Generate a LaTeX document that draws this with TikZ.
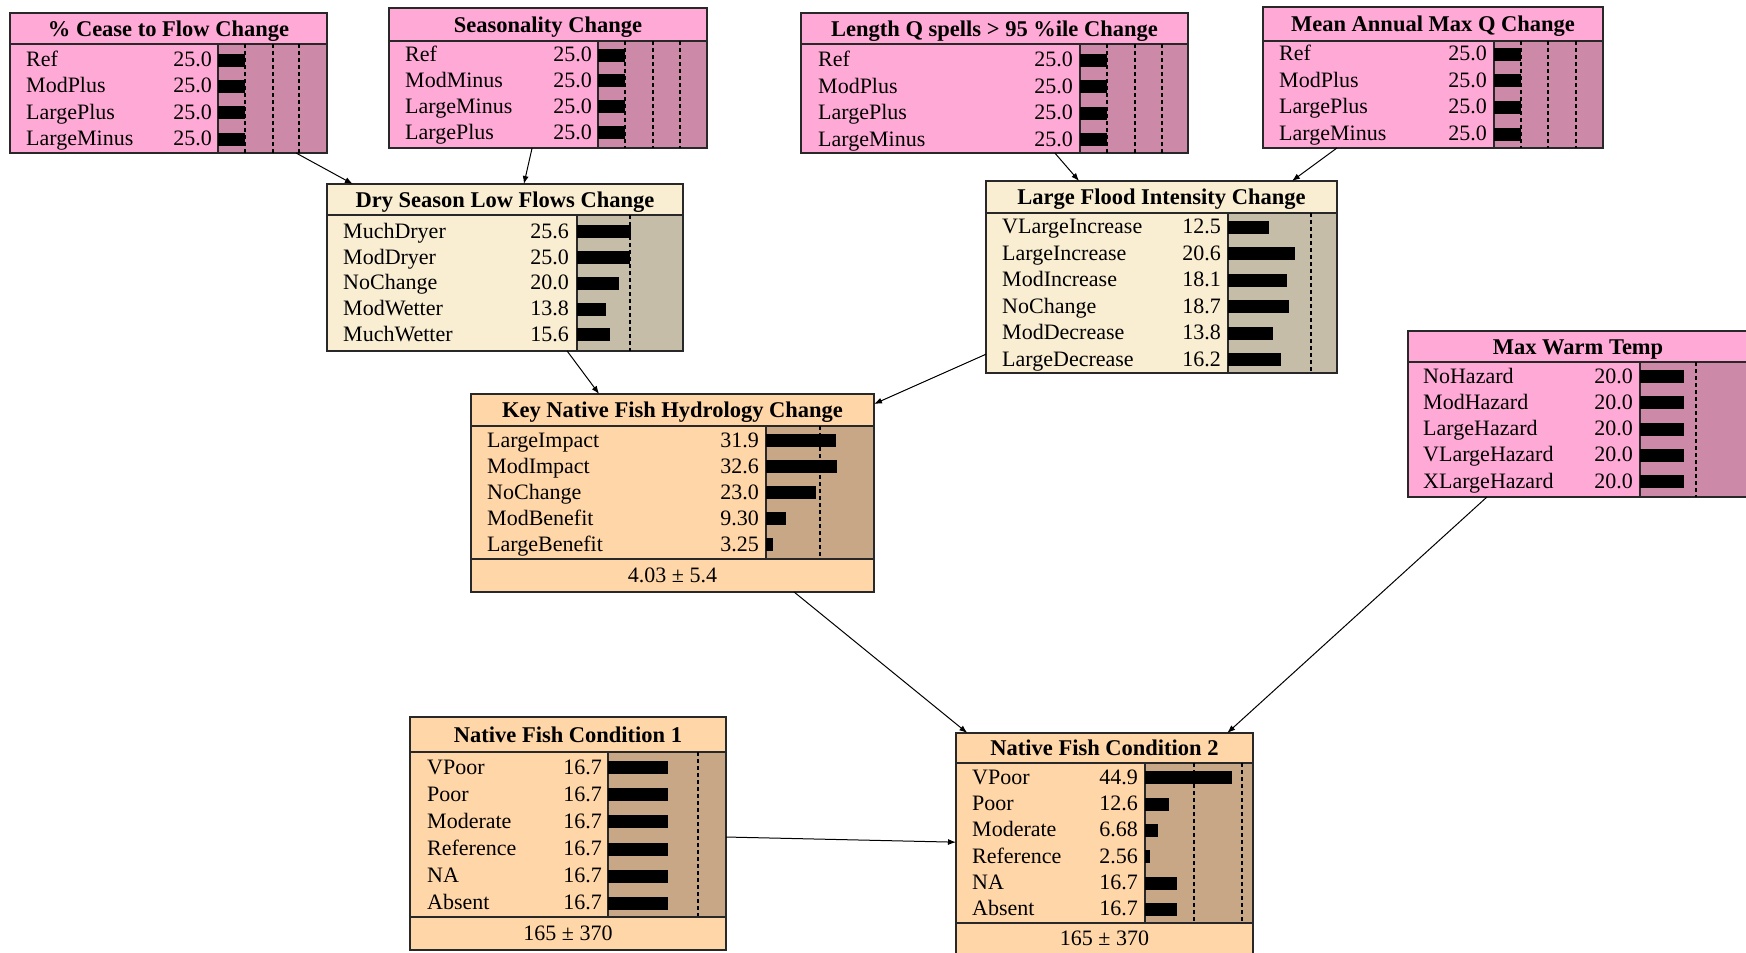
\documentclass[tikz,border=0pt]{standalone}
\usepackage{fontspec}
\setmainfont{Liberation Serif}
\usetikzlibrary{arrows.meta,fit}
\definecolor{pkfill}{RGB}{255,170,214}
\definecolor{pkbar}{RGB}{204,137,168}
\definecolor{bgfill}{RGB}{249,237,210}
\definecolor{bgbar}{RGB}{198,189,168}
\definecolor{pcfill}{RGB}{255,214,168}
\definecolor{pcbar}{RGB}{200,167,134}
\definecolor{framecol}{RGB}{40,40,40}
\tikzset{
  rowtext/.style={inner sep=0pt, font=\fontsize{22}{26}\selectfont},
  titletext/.style={inner sep=0pt, font=\fontsize{22.5}{26}\selectfont\bfseries},
  boxframe/.style={draw=framecol, line width=1.4pt, inner sep=0pt, outer sep=0pt},
  divline/.style={draw=framecol, line width=1.4pt},
  dashline/.style={draw=black, line width=1.1pt, dash pattern=on 4pt off 3pt},
  barfill/.style={fill=black},
  link/.style={draw=black, line width=1pt, -{Latex[length=8pt,width=6pt]}},
}
% #1 name, #2 x0, #3 y0, #4 x1, #5 y1, #6 title divider, #7 bar left, #8 bar bottom, #9 colour prefix
\newcommand\netbox[9]{%
  \fill[#9fill] (#2,#3) rectangle (#4,#5);
  \fill[#9bar] (#7,#6) rectangle (#4,#8);
  \draw[divline] (#2,#6) -- (#4,#6);
  \draw[divline] (#7,#6) -- (#7,#8);
  \node[boxframe, fit={(#2,#3) (#4,#5)}] (#1) {};
}
% #1 name, #2 label x, #3 number right x, #4 bar left, #5 first row centre, #6 row step, #7 list
\newcommand\netrows[7]{%
  \foreach \lab/\val/\bw [count=\i] in {#7}{%
    \pgfmathsetmacro\yy{#5+(\i-1)*#6}%
    \node[rowtext, anchor=base west] (#1-l\i) at (#2,\yy+6.5) {\lab};
    \node[rowtext, anchor=base east] (#1-v\i) at (#3,\yy+6.5) {\val};
    \fill[barfill] (#4,\yy-6.5) rectangle ++(\bw,13);
  }%
}
\begin{document}
\begin{tikzpicture}[x=1pt,y=-1pt]
\useasboundingbox (0,0) rectangle (1746,953);
\clip (0,0) rectangle (1746,953);
\fill[white] (0,0) rectangle (1746,953);

% % Cease to Flow Change
\netbox{cease}{10}{13}{327}{153}{44}{218}{153}{pk}
\node[titletext, anchor=base] (cease-t) at (168.5,36) {\% Cease to Flow Change};
\foreach \dx in {245,273,299} \draw[dashline] (\dx,44) -- (\dx,153);
\netrows{cease}{26}{212}{218}{60}{26.4}{Ref/25.0/27, ModPlus/25.0/27, LargePlus/25.0/27, LargeMinus/25.0/27}

% Seasonality Change
\netbox{seas}{389}{8}{707}{148}{41}{598}{148}{pk}
\node[titletext, anchor=base] (seas-t) at (548,32) {Seasonality Change};
\foreach \dx in {625,653,680} \draw[dashline] (\dx,41) -- (\dx,148);
\netrows{seas}{405}{592}{598}{55}{25.9}{Ref/25.0/27, ModMinus/25.0/27, LargeMinus/25.0/27, LargePlus/25.0/27}

% Length Q spells
\netbox{lenq}{801}{13}{1188}{153}{44}{1080}{153}{pk}
\node[titletext, anchor=base] (lenq-t) at (994.5,36) {Length Q spells > 95 \%ile Change};
\foreach \dx in {1107,1135,1162} \draw[dashline] (\dx,44) -- (\dx,153);
\netrows{lenq}{818}{1073}{1080}{60}{26.6}{Ref/25.0/27, ModPlus/25.0/27, LargePlus/25.0/27, LargeMinus/25.0/27}

% Mean Annual Max Q
\netbox{maxq}{1263}{7}{1603}{148}{41}{1494}{148}{pk}
\node[titletext, anchor=base] (maxq-t) at (1433,31.5) {Mean Annual Max Q Change};
\foreach \dx in {1521,1548,1576} \draw[dashline] (\dx,41) -- (\dx,148);
\netrows{maxq}{1279}{1487}{1494}{54}{26.7}{Ref/25.0/27, ModPlus/25.0/27, LargePlus/25.0/27, LargeMinus/25.0/27}

% Dry Season Low Flows
\netbox{dry}{327}{184}{683}{351}{215}{577}{351}{bg}
\node[titletext, anchor=base] (dry-t) at (505,207) {Dry Season Low Flows Change};
\draw[dashline] (630,215) -- (630,351);
\netrows{dry}{343}{569}{577}{231.7}{25.8}{MuchDryer/25.6/53.8, ModDryer/25.0/52.5, NoChange/20.0/42, ModWetter/13.8/29, MuchWetter/15.6/32.8}

% Large Flood Intensity
\netbox{flood}{986}{181}{1337}{373}{213}{1228}{373}{bg}
\node[titletext, anchor=base] (flood-t) at (1161.5,204.5) {Large Flood Intensity Change};
\draw[dashline] (1311,213) -- (1311,373);
\netrows{flood}{1002}{1221}{1228}{227}{26.5}{VLargeIncrease/12.5/41, LargeIncrease/20.6/67, ModIncrease/18.1/59, NoChange/18.7/61, ModDecrease/13.8/45, LargeDecrease/16.2/53}

% Key Native Fish Hydrology
\netbox{key}{471}{394}{874}{592}{426}{766}{559}{pc}
\node[titletext, anchor=base] (key-t) at (672.5,417.5) {Key Native Fish Hydrology Change};
\draw[dashline] (820,426) -- (820,559);
\draw[divline] (471,559) -- (874,559);
\node[rowtext, anchor=base] (key-f) at (672.5,582.5) {4.03 ± 5.4};
\netrows{key}{487}{759}{766}{440.5}{26.05}{LargeImpact/31.9/70, ModImpact/32.6/71, NoChange/23.0/50, ModBenefit/9.30/20, LargeBenefit/3.25/7}

% Native Fish Condition 1
\netbox{nfc1}{410}{717}{726}{950}{752}{608}{917}{pc}
\node[titletext, anchor=base] (nfc1-t) at (568,742) {Native Fish Condition 1};
\draw[dashline] (698,752) -- (698,917);
\draw[divline] (410,917) -- (726,917);
\node[rowtext, anchor=base] (nfc1-f) at (568,940.5) {165 ± 370};
\netrows{nfc1}{427}{602}{608}{767.7}{27.1}{VPoor/16.7/60, Poor/16.7/60, Moderate/16.7/60, Reference/16.7/60, NA/16.7/60, Absent/16.7/60}

% Native Fish Condition 2
\netbox{nfc2}{956}{733}{1253}{958}{763}{1145}{923}{pc}
\node[titletext, anchor=base] (nfc2-t) at (1104.5,755.5) {Native Fish Condition 2};
\foreach \dx in {1194,1242} \draw[dashline] (\dx,763) -- (\dx,923);
\draw[divline] (956,923) -- (1253,923);
\node[rowtext, anchor=base] (nfc2-f) at (1104.5,945) {165 ± 370};
\netrows{nfc2}{972}{1138}{1145}{777.8}{26.3}{VPoor/44.9/87, Poor/12.6/24, Moderate/6.68/13, Reference/2.56/5, NA/16.7/32, Absent/16.7/32}

% Max Warm Temp
\netbox{warm}{1408}{331}{1748}{497}{362}{1640}{497}{pk}
\node[titletext, anchor=base] (warm-t) at (1578,354) {Max Warm Temp};
\draw[dashline] (1696,362) -- (1696,497);
\netrows{warm}{1423}{1633}{1640}{376.7}{26.25}{NoHazard/20.0/44, ModHazard/20.0/44, LargeHazard/20.0/44, VLargeHazard/20.0/44, XLargeHazard/20.0/44}

% links
\draw[link] (cease) -- (dry);
\draw[link] (seas) -- (dry);
\draw[link] (lenq) -- (flood);
\draw[link] (maxq) -- (flood);
\draw[link] (dry) -- (key);
\draw[link] (flood) -- (key);
\draw[link] (key) -- (nfc2);
\draw[link] (warm) -- (nfc2);
\draw[link] (nfc1) -- (nfc2);
\end{tikzpicture}
\end{document}
